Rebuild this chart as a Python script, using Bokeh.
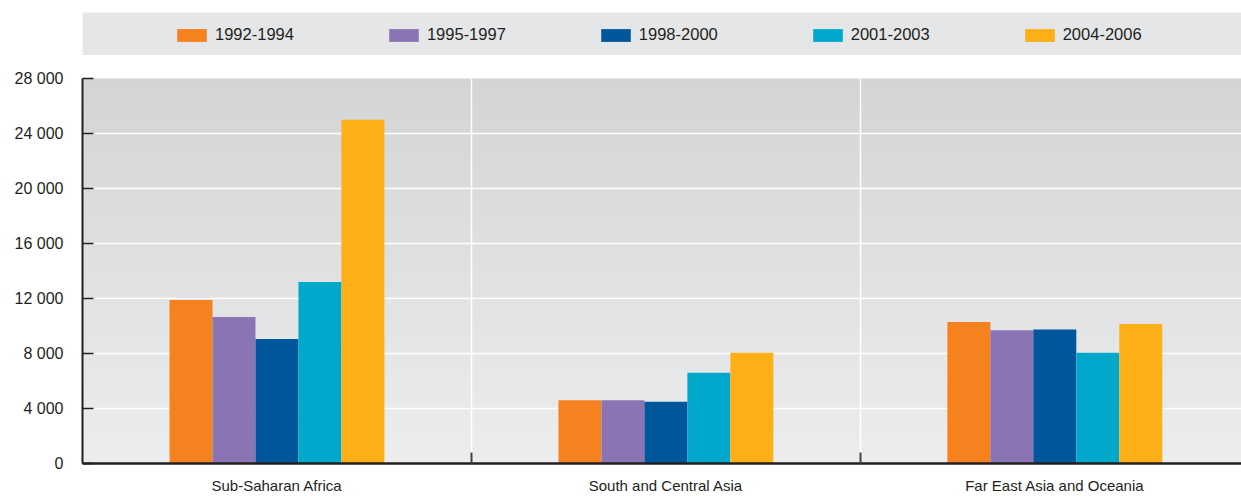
import numpy as np
from bokeh.plotting import figure
from bokeh.models import Range1d, FixedTicker, Legend, LegendItem, ColumnDataSource
from bokeh.layouts import column
from bokeh.transform import dodge
from bokeh.embed import file_html
from bokeh.resources import INLINE

# ---- data ----
regions = ["Sub-Saharan Africa", "South and Central Asia", "Far East Asia and Oceania"]
periods = ["1992-1994", "1995-1997", "1998-2000", "2001-2003", "2004-2006"]
v_1992_1994 = [11900, 4600, 10300]
v_1995_1997 = [10650, 4600, 9700]
v_1998_2000 = [9050, 4500, 9750]
v_2001_2003 = [13200, 6600, 8050]
v_2004_2006 = [25000, 8050, 10150]
y_ticks = [0, 4000, 8000, 12000, 16000, 20000, 24000, 28000]
y_tick_labels = ["0", "4 000", "8 000", "12 000", "16 000", "20 000", "24 000", "28 000"]

colors = ["#F5821F", "#8B74B3", "#00579C", "#00A8CC", "#FCAF17"]
FONT = "Liberation Sans"
TXT = "#231F20"

series = [v_1992_1994, v_1995_1997, v_1998_2000, v_2001_2003, v_2004_2006]
centers = [i + 0.5 for i in range(len(regions))]
data = {"x": centers}
for k, s in enumerate(series):
    data[f"s{k}"] = s
source = ColumnDataSource(data)

# ---- main chart ----
p = figure(width=1241, height=441, x_range=Range1d(0, 2.98), y_range=Range1d(0, 28000),
           output_backend="svg", toolbar_location=None,
           min_border_left=82, min_border_right=0, min_border_top=23, min_border_bottom=0,
           background_fill_color="#e0e1e3", border_fill_color="white")
p.outline_line_color = None

# vertical background gradient
N = 200
t = np.linspace(0, 1, N)
bot = np.array([236, 237, 238])
top = np.array([211, 212, 214])
img = np.empty((N, 1), dtype=np.uint32)
view = img.view(dtype=np.uint8).reshape((N, 1, 4))
for ch in range(3):
    view[:, 0, ch] = np.round(bot[ch] + (top[ch] - bot[ch]) * t).astype(np.uint8)
view[:, 0, 3] = 255
p.image_rgba(image=[img], x=0, y=0, dw=3, dh=28000, level="image")

bw = 0.1105
for k, c in enumerate(colors):
    p.vbar(x=dodge("x", (k - 2) * bw), top=f"s{k}", width=bw, source=source,
           fill_color=c, line_color=None)

# grids
p.ygrid.ticker = FixedTicker(ticks=y_ticks[1:-1])
p.ygrid.grid_line_color = "white"
p.ygrid.grid_line_width = 1.5
xt = FixedTicker(ticks=centers, minor_ticks=[1, 2])
p.xgrid.ticker = xt
p.xgrid.grid_line_color = None
p.xgrid.minor_grid_line_color = "white"
p.xgrid.minor_grid_line_width = 1.5

# y axis
p.yaxis.ticker = FixedTicker(ticks=y_ticks)
p.yaxis.major_label_overrides = {t_: l for t_, l in zip(y_ticks, y_tick_labels)}
p.yaxis.axis_line_color = TXT
p.yaxis.axis_line_width = 2
p.yaxis.major_tick_in = 11
p.yaxis.major_tick_out = 0
p.yaxis.major_tick_line_color = TXT
p.yaxis.major_tick_line_width = 1.5
p.yaxis.minor_tick_line_color = None
p.yaxis.major_label_standoff = 19
p.yaxis.major_label_text_font = FONT
p.yaxis.major_label_text_font_size = "16px"
p.yaxis.major_label_text_color = TXT

# x axis
p.xaxis.ticker = xt
p.xaxis.major_label_overrides = {c: r for c, r in zip(centers, regions)}
p.xaxis.axis_line_color = TXT
p.xaxis.axis_line_width = 2.5
p.xaxis.major_tick_line_color = None
p.xaxis.minor_tick_in = 11
p.xaxis.minor_tick_out = 0
p.xaxis.minor_tick_line_color = "#444444"
p.xaxis.minor_tick_line_width = 2
p.xaxis.major_label_standoff = 7
p.xaxis.major_label_text_font = FONT
p.xaxis.major_label_text_font_size = "15px"
p.xaxis.major_label_text_color = TXT

# ---- legend band ----
lg = figure(width=1241, height=55, x_range=Range1d(0, 1), y_range=Range1d(0, 1),
            output_backend="svg", toolbar_location=None,
            x_axis_location=None, y_axis_location=None,
            min_border_left=80, min_border_right=0, min_border_top=12, min_border_bottom=0,
            background_fill_color="#E5E6E8", border_fill_color="white")
lg.outline_line_color = None
lg.grid.visible = False
items = []
for period, c in zip(periods, colors):
    # legend-key renderer kept outside the visible range
    r = lg.vbar(x=[-5], top=[0], width=0.1, fill_color=c, line_color=None)
    items.append(LegendItem(label=period, renderers=[r]))
legend = Legend(items=items, orientation="horizontal", location=(91, 11),
                background_fill_alpha=0, border_line_color=None, padding=0, margin=0,
                spacing=91, glyph_width=37, glyph_height=16, label_standoff=5,
                label_height=13,
                label_text_font=FONT, label_text_font_size="16.5px", label_text_color=TXT)
lg.add_layout(legend)

layout = column(lg, p, spacing=0)
open("out.html", "w").write(file_html(layout, INLINE))
